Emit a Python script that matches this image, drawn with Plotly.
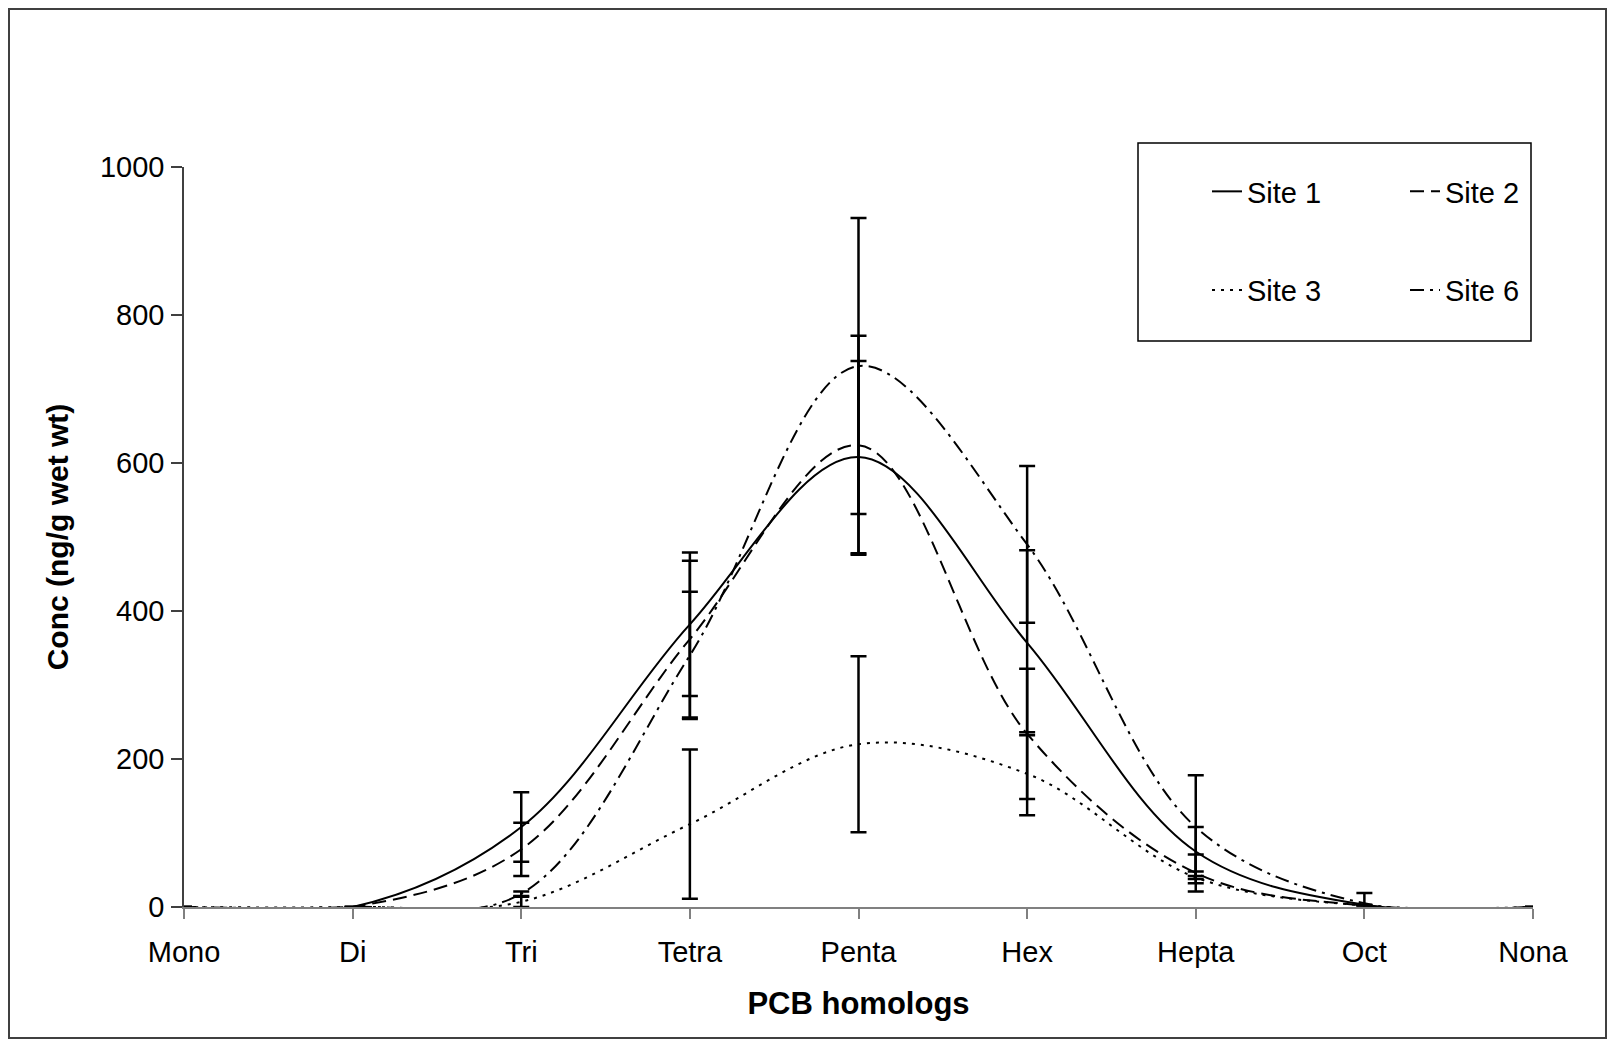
import plotly.graph_objects as go

homologs = ["Mono", "Di", "Tri", "Tetra", "Penta", "Hex", "Hepta", "Oct", "Nona"]

site1 = [0, 0, 108, 382, 608, 357, 75, 3, 0]
site2 = [0, 0, 78, 362, 624, 234, 46, 2, 0]
site3 = [0, 0, 7, 112, 220, 180, 40, 2, 0]
site6 = [0, 0, 18, 340, 731, 490, 108, 5, 0]

err1 = [None, None, 47, 97, 130, 125, 33, None, None]
err2 = [None, None, 36, 106, 148, 88, 25, None, None]
err3 = [None, None, 7, 101, 119, 56, 8, None, None]
err6 = [None, None, 3, 86, 200, 106, 70, 14, None]

# page offset of the figure div (body margin)
OFF = 8
W, H = 1616, 1039
# plot area in page pixels
X0, X1, Y0, Y1 = 184, 1533, 167, 907
L = X0 - OFF
T = Y0 - OFF
R = W - X1 + OFF
B = H - Y1 + OFF
pw = X1 - X0
ph = Y1 - Y0


def px(x):
    return (x - X0) / pw


def py(y):
    return (Y1 - y) / ph


font = "Liberation Sans, Arial, sans-serif"

fig = go.Figure()


def add_site(name, y, err, dash, legend):
    fig.add_trace(
        go.Scatter(
            x=homologs,
            y=y,
            mode="lines",
            name=name,
            legend=legend,
            legendgroup=name,
            line=dict(color="black", width=2, dash=dash, shape="spline", smoothing=1),
            error_y=dict(type="data", array=err, visible=True,
                         color="black", thickness=2.5, width=8),
        )
    )


add_site("Site 1", site1, err1, "solid", "legend")
add_site("Site 2", site2, err2, "14px,7px", "legend2")
add_site("Site 3", site3, err3, "3px,6px", "legend")
add_site("Site 6", site6, err6, "14px,6px,3px,6px", "legend2")

fig.update_layout(
    width=W,
    height=H,
    margin=dict(l=L, r=R, t=T, b=B),
    paper_bgcolor="white",
    plot_bgcolor="white",
    font=dict(family=font, size=29, color="black"),
    showlegend=True,
    legend=dict(x=px(1207), y=py(166), xanchor="left", yanchor="top",
                bgcolor="rgba(0,0,0,0)", tracegroupgap=58,
                font=dict(size=29)),
    legend2=dict(x=px(1405), y=py(166), xanchor="left", yanchor="top",
                 bgcolor="rgba(0,0,0,0)", tracegroupgap=58,
                 font=dict(size=29)),
    xaxis=dict(
        type="category",
        range=[0, 8],
        showgrid=False,
        zeroline=False,
        showline=True,
        linecolor="#808080",
        linewidth=2,
        ticks="outside",
        ticklen=10,
        tickcolor="#808080",
        tickwidth=1.5,
        ticklabelstandoff=8,
        tickfont=dict(size=29),
        title=dict(text="<b>PCB homologs</b>", font=dict(size=31), standoff=26),
    ),
    yaxis=dict(
        range=[0, 1000],
        dtick=200,
        showgrid=False,
        zeroline=False,
        showline=True,
        linecolor="#404040",
        linewidth=1.5,
        ticks="outside",
        ticklen=11,
        tickcolor="#404040",
        tickwidth=1.5,
        ticklabelstandoff=1,
        tickfont=dict(size=29),
        title=dict(text="<b>Conc (ng/g wet wt)</b>", font=dict(size=30), standoff=22),
    ),
    shapes=[
        # chart area border
        dict(type="rect", xref="paper", yref="paper",
             x0=px(9), x1=px(1606), y0=py(1038), y1=py(OFF + 1),
             line=dict(color="#404040", width=2), layer="below"),
        # legend box
        dict(type="rect", xref="paper", yref="paper",
             x0=px(1138), x1=px(1531), y0=py(341), y1=py(143),
             line=dict(color="black", width=1.5)),
    ],
)

fig.write_html("out.html")
